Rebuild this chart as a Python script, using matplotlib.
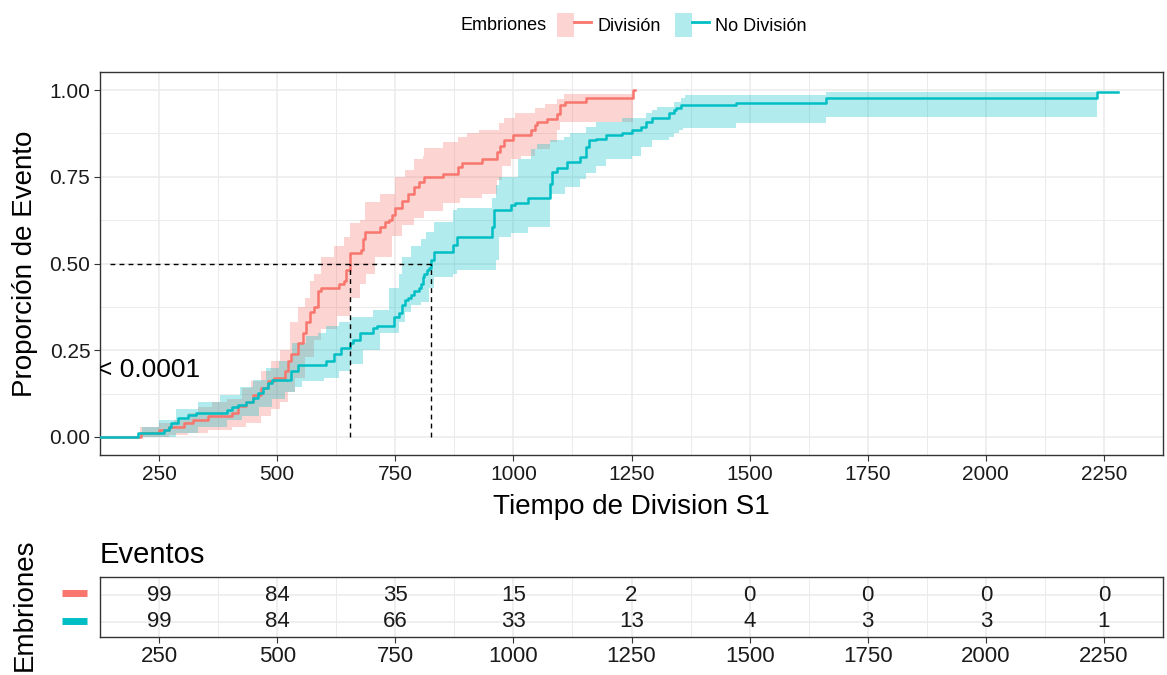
import numpy as np
import matplotlib
matplotlib.use("Agg")
import matplotlib.pyplot as plt
from matplotlib.patches import Patch
from matplotlib.lines import Line2D
from matplotlib.legend_handler import HandlerTuple

plt.rcParams['font.family'] = ['Liberation Sans', 'DejaVu Sans']

groups = ["División", "No División"]
colors = ["#F8766D", "#00BFC4"]

# ---- División: cumulative event curve (time, value after step)
div_t = [0, 211, 250, 271, 302, 322, 353, 404, 418, 435, 449, 466, 480, 493, 517, 523, 529, 544, 554,
         562, 569, 579, 587, 593, 630, 641, 645, 655, 677, 682, 686, 717, 729, 737, 743, 749, 764, 776,
         790, 801, 811, 852, 883, 891, 934, 965, 971, 980, 1000, 1037, 1045, 1051, 1072, 1092, 1099,
         1109, 1154, 1253, 1257]
div_v = [0, .01, .02, .03, .04, .05, .06, .07, .09, .10, .12, .14, .16, .17, .19, .22, .24, .27, .30,
         .33, .36, .375, .42, .43, .44, .45, .48, .53, .54, .57, .59, .605, .62, .625, .64, .66, .68, .70,
         .72, .735, .749, .758, .778, .79, .80, .82, .84, .856, .87, .885, .90, .908, .916, .93, .957,
         .965, .977, 1.0, 1.0]
div_up_t = [0, 209, 250, 281, 312, 332, 363, 394, 425, 445, 466, 486, 507, 527, 544, 558, 569, 579, 593,
            620, 641, 655, 675, 686, 717, 749, 770, 790, 809, 811, 852, 883, 901, 928, 969, 980, 1004,
            1045, 1066, 1092, 1107, 1253]
div_up_v = [0, .03, .04, .05, .07, .085, .10, .11, .14, .16, .19, .22, .25, .33, .375, .40, .45, .47, .52,
            .55, .576, .617, .625, .677, .70, .75, .77, .80, .81, .833, .85, .865, .876, .885, .905, .92,
            .934, .948, .96, .975, .99, .99]
div_lo_t = [0, 211, 271, 312, 353, 404, 435, 466, 486, 507, 523, 538, 558, 579, 593, 626, 655, 675, 688,
            708, 743, 764, 790, 811, 852, 887, 934, 965, 975, 996, 1016, 1045, 1078, 1092, 1099, 1253]
div_lo_v = [0, 0, .005, .01, .02, .03, .04, .06, .08, .10, .13, .17, .23, .28, .31, .35, .40, .44, .47,
            .52, .58, .61, .63, .65, .675, .69, .70, .74, .78, .80, .81, .83, .85, .885, .909, .909]

# ---- No División
nod_t = [0, 205, 260, 271, 275, 291, 312, 328, 394, 404, 418, 435, 449, 460, 470, 480, 490, 529, 544,
         603, 620, 636, 655, 661, 675, 702, 712, 747, 758, 764, 770, 776, 784, 790, 801, 805, 809, 811,
         817, 821, 825, 831, 873, 881, 955, 960, 996, 1004, 1031, 1078, 1082, 1092, 1113, 1140, 1154,
         1160, 1175, 1195, 1230, 1250, 1271, 1281, 1294, 1329, 1340, 1345, 1355, 1472, 1661, 2236, 2280]
nod_v = [0, .01, .02, .03, .04, .055, .063, .068, .078, .087, .092, .10, .112, .126, .141, .156, .164,
         .19, .207, .22, .24, .256, .27, .28, .30, .314, .32, .346, .357, .38, .395, .40, .41, .42, .43,
         .44, .46, .47, .48, .487, .51, .533, .553, .576, .605, .654, .668, .674, .689, .73, .764, .775,
         .793, .808, .836, .856, .86, .87, .876, .885, .894, .908, .919, .934, .942, .948, .957, .962,
         .976, .995, .995]
nod_up_t = [0, 213, 250, 285, 332, 380, 421, 449, 476, 503, 532, 562, 587, 603, 630, 655, 702, 737, 758,
            764, 784, 805, 815, 831, 873, 881, 955, 963, 969, 1010, 1037, 1051, 1078, 1107, 1119, 1154,
            1175, 1230, 1281, 1294, 1305, 1340, 1355, 1363, 1661, 2236]
nod_up_v = [0, .03, .05, .08, .10, .12, .145, .165, .20, .22, .27, .29, .30, .32, .33, .346, .366, .43,
            .47, .52, .55, .57, .59, .62, .654, .66, .69, .726, .75, .80, .83, .845, .856, .865, .876, .894,
            .909, .92, .934, .942, .952, .966, .976, .986, .995, .995]
nod_lo_t = [0, 209, 285, 332, 394, 425, 462, 490, 517, 538, 552, 599, 630, 655, 682, 717, 758, 770, 784,
            805, 821, 831, 873, 881, 963, 970, 996, 1031, 1078, 1109, 1140, 1154, 1175, 1195, 1250, 1271,
            1294, 1329, 1340, 1350, 1359, 1472, 1661, 2236]
nod_lo_v = [0, 0, .01, .03, .05, .06, .087, .11, .13, .145, .16, .17, .19, .21, .25, .30, .33, .36, .38,
            .39, .43, .46, .47, .48, .51, .576, .587, .605, .70, .72, .745, .76, .78, .80, .81, .836, .856,
            .865, .876, .885, .89, .904, .923, .923]

medians = [654, 825]

# risk table
table_times = [250, 500, 750, 1000, 1250, 1500, 1750, 2000, 2250]
risk_div = [99, 84, 35, 15, 2, 0, 0, 0, 0]
risk_nod = [99, 84, 66, 33, 13, 4, 3, 3, 1]

pval_text = "p < 0.0001"

W, H = 1167, 675
fig = plt.figure(figsize=(W / 100, H / 100), dpi=100)
ax = fig.add_axes([100 / W, 1 - 455 / H, 1063 / W, 383 / H])
axt = fig.add_axes([100 / W, 1 - 636.7 / H, 1063 / W, 60 / H])

XLIM = (147, 2331)
grid_c = "#EBEBEB"
spine_c = "#333333"


def step_eval(ts, vs, grid):
    ts = np.asarray(ts, float)
    vs = np.asarray(vs, float)
    idx = np.searchsorted(ts, grid, side="right") - 1
    return np.where(idx >= 0, vs[np.clip(idx, 0, None)], 0.0)


bands = [(div_up_t, div_up_v, div_lo_t, div_lo_v), (nod_up_t, nod_up_v, nod_lo_t, nod_lo_v)]
lines = [(div_t, div_v), (nod_t, nod_v)]

for (ut, uv, lt, lv), c in zip(bands, colors):
    g = np.unique(np.concatenate([ut, lt]))
    ax.fill_between(g, step_eval(lt, lv, g), step_eval(ut, uv, g), step="post",
                    color=c, alpha=0.3, linewidth=0, zorder=2)
for (t, v), c in zip(lines, colors):
    ax.step(t, v, where="post", color=c, linewidth=1.8, zorder=3)

# median lines
ax.plot([XLIM[0], max(medians)], [0.5, 0.5], ls=(0, (3.5, 3)), color="black", lw=1, zorder=4)
for m in medians:
    ax.plot([m, m], [0, 0.5], ls=(0, (3.5, 3)), color="black", lw=1, zorder=4)

ax.text(336, 0.193, pval_text, ha="right", va="center", fontsize=19, clip_on=True, zorder=5)

ax.set_xlim(*XLIM)
ax.set_ylim(-0.052, 1.052)
ax.set_xticks(table_times)
ax.set_xticks(np.arange(125, 2400, 250), minor=True)
ax.set_yticks([0, 0.25, 0.5, 0.75, 1.0])
ax.set_yticklabels(["0.00", "0.25", "0.50", "0.75", "1.00"])
ax.set_yticks([0.125, 0.375, 0.625, 0.875], minor=True)
ax.grid(True, which="major", color=grid_c, lw=1.1, zorder=0)
ax.grid(True, which="minor", color=grid_c, lw=0.7, zorder=0)
ax.set_axisbelow(True)
ax.tick_params(which="major", labelsize=15, length=4, color=spine_c, labelcolor="#1a1a1a", pad=3)
ax.tick_params(which="minor", length=0)
for s in ax.spines.values():
    s.set_color(spine_c)
    s.set_linewidth(1.0)
ax.set_xlabel("Tiempo de Division S1", fontsize=20, va="center")
ax.xaxis.set_label_coords(0.5, -0.136)
ax.set_ylabel("Proporción de Evento", fontsize=20, va="center")
ax.yaxis.set_label_coords(-0.0706, 0.5)

# legend
fig.text(460 / W, 1 - 25 / H, "Embriones", fontsize=13, va="center", ha="left")
handles = [(Patch(facecolor=c, alpha=0.3, edgecolor="none"), Line2D([], [], color=c, lw=2)) for c in colors]
fig.legend(handles, groups, handler_map={tuple: HandlerTuple(ndivide=None, pad=0)},
           loc="center left", bbox_to_anchor=(557 / W, 1 - 25 / H), ncol=2, frameon=False,
           fontsize=13, handlelength=1.9, handleheight=1.75, handletextpad=0.35,
           columnspacing=0.75, borderpad=0, borderaxespad=0)

# risk table
for i, (vals, yy) in enumerate([(risk_div, 2), (risk_nod, 1)]):
    for t, n in zip(table_times, vals):
        axt.text(t, yy, str(n), ha="center", va="center", fontsize=16, color="#1a1a1a")
axt.set_xlim(*XLIM)
axt.set_ylim(0.44, 2.69)
axt.set_xticks(table_times)
axt.set_xticks(np.arange(125, 2400, 250), minor=True)
axt.set_yticks([1, 2])
axt.set_yticklabels([])
axt.tick_params(axis="y", length=0)
axt.grid(True, which="major", color=grid_c, lw=1.1, zorder=0)
axt.grid(True, which="minor", axis="x", color=grid_c, lw=0.7, zorder=0)
axt.tick_params(axis="x", which="major", labelsize=16, length=4, color=spine_c, labelcolor="#1a1a1a", pad=3)
axt.tick_params(which="minor", length=0)
for s in axt.spines.values():
    s.set_color(spine_c)
    s.set_linewidth(1.0)
fig.text(100 / W, 1 - 555 / H, "Eventos", fontsize=21, ha="left", va="center")
fig.text(25 / W, 1 - 605 / H, "Embriones", fontsize=20, rotation=90, ha="center", va="center")
for c, yy in zip(colors, [593, 621]):
    fig.add_artist(Line2D([62 / W, 87 / W], [1 - yy / H, 1 - yy / H], color=c, lw=5,
                          transform=fig.transFigure, solid_capstyle="butt"))

fig.savefig("out.png", dpi=100)
